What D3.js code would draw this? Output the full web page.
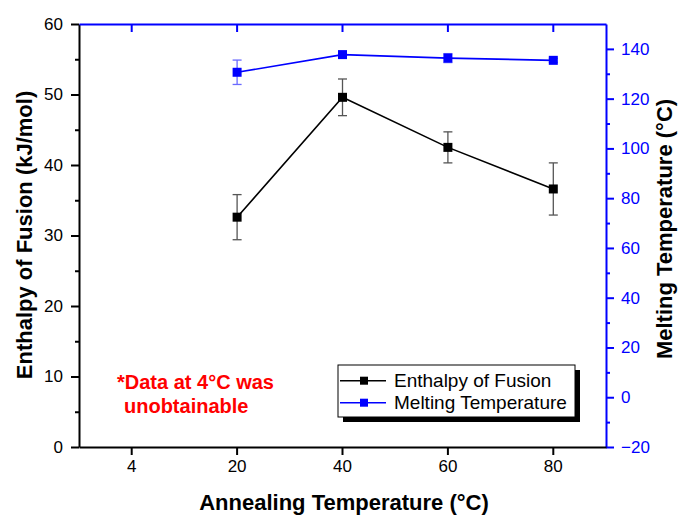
<!DOCTYPE html>
<html>
<head>
<meta charset="utf-8">
<script src="https://cdn.jsdelivr.net/npm/d3@7"></script>
<style>
  body { margin: 0; background: #fff; }
  text { font-family: "Liberation Sans", Arial, sans-serif; }
</style>
</head>
<body>
<div id="chart"></div>
<script>
// categories on the x axis (evenly spaced)
var categories = ["4", "20", "40", "60", "80"];

// enthalpy of fusion (left axis, kJ/mol)
var enthalpyX = ["20", "40", "60", "80"];
var enthalpy = [32.6, 49.6, 42.5, 36.6];
var enthalpyErr = [3.2, 2.6, 2.2, 3.7];

// melting temperature (right axis, °C)
var meltingX = ["20", "40", "60", "80"];
var melting = [130.6, 137.7, 136.3, 135.4];
var meltingErr = [4.9, 1.0, 1.8, 0.8];

var leftTicks = [0, 10, 20, 30, 40, 50, 60];
var leftMinor = [5, 15, 25, 35, 45, 55];
var rightTicks = [-20, 0, 20, 40, 60, 80, 100, 120, 140];
var rightMinor = [-10, 10, 30, 50, 70, 90, 110, 130];

var width = 678, height = 515;
var plot = { left: 79, right: 606, top: 24, bottom: 447 };
var blue = "#0000ff";

var svg = d3.select("#chart")
    .append("svg")
    .attr("width", width)
    .attr("height", height);

var x = d3.scaleBand()
    .domain(categories)
    .range([plot.left, plot.right])
    .padding(0);
function cx(c) { return x(c) + x.bandwidth() / 2; }

var yL = d3.scaleLinear().domain([0, 60]).range([plot.bottom, plot.top]);
var yR = d3.scaleLinear().domain([-20, 150]).range([plot.bottom, plot.top]);

function styleAxis(g, color) {
    g.selectAll("path, line").attr("stroke", color).attr("stroke-width", 2);
    g.selectAll("text").attr("fill", color).style("font-size", "17px")
        .attr("font-family", "Liberation Sans, Arial, sans-serif");
}

// left axis
var gL = svg.append("g").attr("transform", "translate(" + plot.left + ",0)")
    .call(d3.axisLeft(yL).tickValues(leftTicks).tickSize(8).tickSizeOuter(0).tickPadding(8));
styleAxis(gL, "#000");
var gLm = svg.append("g").attr("transform", "translate(" + plot.left + ",0)")
    .call(d3.axisLeft(yL).tickValues(leftMinor).tickSize(4).tickFormat(""));
styleAxis(gLm, "#000");
gLm.select(".domain").remove();

// right axis
var gR = svg.append("g").attr("transform", "translate(" + plot.right + ",0)")
    .call(d3.axisRight(yR).tickValues(rightTicks).tickSize(8).tickSizeOuter(0).tickPadding(7));
styleAxis(gR, blue);
var gRm = svg.append("g").attr("transform", "translate(" + plot.right + ",0)")
    .call(d3.axisRight(yR).tickValues(rightMinor).tickSize(4).tickFormat(""));
styleAxis(gRm, blue);
gRm.select(".domain").remove();

// bottom axis
var gB = svg.append("g").attr("transform", "translate(0," + plot.bottom + ")")
    .call(d3.axisBottom(x).tickSize(8).tickSizeOuter(0).tickPadding(5));
styleAxis(gB, "#000");

// top axis (ticks point inward)
var gT = svg.append("g").attr("transform", "translate(0," + plot.top + ")")
    .call(d3.axisTop(x).tickSize(-8).tickSizeOuter(0).tickFormat(""));
styleAxis(gT, blue);

// axis titles
svg.append("text")
    .attr("transform", "translate(32," + 235 + ") rotate(-90)")
    .attr("text-anchor", "middle")
    .style("font-size", "22px").style("font-weight", "bold")
    .text("Enthalpy of Fusion (kJ/mol)");

svg.append("text")
    .attr("transform", "translate(672," + 229 + ") rotate(-90)")
    .attr("text-anchor", "middle")
    .style("font-size", "22px").style("font-weight", "bold")
    .text("Melting Temperature (°C)");

svg.append("text")
    .attr("x", 344).attr("y", 510)
    .attr("text-anchor", "middle")
    .style("font-size", "22px").style("font-weight", "bold")
    .text("Annealing Temperature (°C)");

// series drawing
function drawSeries(xs, vals, errs, y, color, errColor) {
    var pts = xs.map(function (c, i) { return { c: c, v: vals[i], e: errs[i] }; });
    var g = svg.append("g");
    var eb = g.selectAll("g.err").data(pts).enter().append("g")
        .attr("stroke", errColor).attr("stroke-width", 1.3);
    eb.append("line")
        .attr("x1", function (d) { return cx(d.c); }).attr("x2", function (d) { return cx(d.c); })
        .attr("y1", function (d) { return y(d.v - d.e); }).attr("y2", function (d) { return y(d.v + d.e); });
    eb.append("line")
        .attr("x1", function (d) { return cx(d.c) - 4.5; }).attr("x2", function (d) { return cx(d.c) + 4.5; })
        .attr("y1", function (d) { return y(d.v + d.e); }).attr("y2", function (d) { return y(d.v + d.e); });
    eb.append("line")
        .attr("x1", function (d) { return cx(d.c) - 4.5; }).attr("x2", function (d) { return cx(d.c) + 4.5; })
        .attr("y1", function (d) { return y(d.v - d.e); }).attr("y2", function (d) { return y(d.v - d.e); });

    var line = d3.line().x(function (d) { return cx(d.c); }).y(function (d) { return y(d.v); });
    g.append("path").datum(pts).attr("d", line)
        .attr("fill", "none").attr("stroke", color).attr("stroke-width", 1.6);

    g.selectAll("rect").data(pts).enter().append("rect")
        .attr("x", function (d) { return cx(d.c) - 4.5; })
        .attr("y", function (d) { return y(d.v) - 4.5; })
        .attr("width", 9).attr("height", 9)
        .attr("fill", color);
}

drawSeries(enthalpyX, enthalpy, enthalpyErr, yL, "#000", "#555");
drawSeries(meltingX, melting, meltingErr, yR, blue, "#6a6aff");

// note
var note = svg.append("text").attr("fill", "#ff0000")
    .style("font-size", "20px").style("font-weight", "bold");
note.append("tspan").attr("x", 117).attr("y", 389).text("*Data at 4°C was");
note.append("tspan").attr("x", 124).attr("y", 413).text("unobtainable");

// legend
var legend = svg.append("g").attr("transform", "translate(338,365)");
legend.append("rect").attr("x", 5).attr("y", 5).attr("width", 237).attr("height", 52).attr("fill", "#000");
legend.append("rect").attr("x", 0).attr("y", 0).attr("width", 237).attr("height", 52)
    .attr("fill", "#fff").attr("stroke", "#000").attr("stroke-width", 1);
var legendItems = [["Enthalpy of Fusion", "#000"], ["Melting Temperature", blue]];
legendItems.forEach(function (it, i) {
    var yy = 15.7 + i * 22;
    legend.append("line").attr("x1", 2).attr("x2", 48).attr("y1", yy).attr("y2", yy)
        .attr("stroke", it[1]).attr("stroke-width", 1.6);
    legend.append("rect").attr("x", 22).attr("y", yy - 4).attr("width", 8).attr("height", 8).attr("fill", it[1]);
    legend.append("text").attr("x", 56).attr("y", yy + 6.7)
        .style("font-size", "19px").attr("fill", "#000").text(it[0]);
});
</script>
</body>
</html>
